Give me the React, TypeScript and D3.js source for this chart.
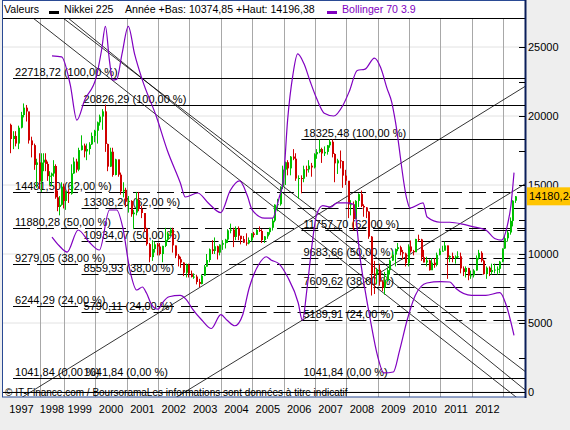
import React from 'react';
import * as d3 from 'd3';

// ---------- DATA ----------
const yearLabels = ['1997','1998','1999','2000','2001','2002','2003','2004','2005','2006','2007','2008','2009','2010','2011','2012'];
const yearStarts = [1998,1999,2000,2001,2002,2003,2004,2005,2006,2007,2008,2009,2010,2011,2012,2013];
const firstOpen = 19361;
// monthly closes Jan 1997 .. May 2013
const monthlyClose = [
  18330,18557,18003,19151,20069,20604,20331,18229,17888,16458,16636,15259,
  16628,16832,16527,15641,15671,15830,16379,14108,13406,13565,14883,13842,
  14499,14368,15837,16702,16112,17530,17862,17437,17605,17942,18558,18934,
  19540,19960,20337,17974,16332,17411,15727,16861,15747,14539,14649,13786,
  13843,12884,12999,13934,13262,12969,11861,10714,9775,10366,10697,10543,
  9997,10588,11025,11493,11764,10622,9877,9619,9383,8640,9216,8579,
  8340,8363,7973,7831,8425,9083,9563,10344,10219,10560,10101,10677,
  10784,11042,11715,11762,11236,11859,11326,11082,10824,10771,11013,11489,
  11388,11741,11668,11009,11277,11584,11900,12414,13574,13607,14872,16111,
  16650,16205,17060,16906,15467,15505,15457,16141,16128,16399,16274,17226,
  17383,17604,17288,17400,17876,18138,17249,16569,16786,16737,15681,15308,
  13592,13603,12526,13850,14339,13481,13377,13073,11260,8577,8512,8860,
  7994,7568,8110,8828,9523,9958,10357,10493,10133,10035,9346,10546,
  10198,10126,11090,11057,9769,9383,9537,8824,9369,9202,9937,10229,
  10238,10624,9755,9850,9694,9816,9833,8955,8700,8988,8435,8455,
  8803,9723,10084,9521,8543,9007,8695,8840,8870,8928,9446,10395,
  11139,11559,12398,13861,14180.24
];
const monthlyHigh = [
  19446,18900,18900,19300,20300,20910,20800,20300,18500,18000,16900,17300,
  17300,17300,17300,16700,16000,15900,16800,16500,14600,14200,15200,15100,
  14600,14700,16500,17000,16900,17700,18600,18000,18000,18100,18800,19000,
  19600,20100,20500,20833,18000,17700,17700,16900,16700,15900,15200,14800,
  14200,13900,13200,14500,14500,13500,12900,11900,10800,11000,10900,10800,
  10800,10600,11900,11600,11900,11900,10600,10000,9800,9400,9300,9300,
  8800,8600,8500,8200,8500,9200,10000,10400,11000,11200,10600,10700,
  11000,11100,11800,12200,11900,12000,12000,11300,11300,11500,11200,11500,
  11600,11800,12000,11800,11300,11600,11900,12600,13600,14000,14900,16400,
  16700,16800,17100,17600,17300,15700,15700,16400,16400,16800,16600,17300,
  17600,18300,17700,17800,17900,18300,18300,17300,16900,17500,16500,16100,
  15200,13900,13800,13900,14400,14600,13600,13400,13100,11300,9500,9000,
  9300,8100,8700,9000,9600,10200,10400,10800,10600,10300,10100,10700,
  10980,10300,11100,11400,11100,10300,9800,9600,9700,9700,10100,10400,
  10600,10900,10600,9900,10100,9900,10200,10100,9100,9100,9000,8800,
  8900,9900,10300,10200,9600,9100,9100,9300,9300,9100,9500,10400,
  11300,11700,12650,13900,14196.38
];
const monthlyLow = [
  17303,17600,17800,17600,19100,19900,19600,18000,17000,16100,14800,14700,
  14500,16000,16000,15300,15000,14900,15600,14000,13100,12800,13500,13300,
  13200,13700,14300,15800,15900,16000,17500,17000,16800,17200,17900,18100,
  18000,19300,19000,17400,16000,16300,15600,15700,15600,14300,14100,13400,
  13000,12700,11800,12800,13100,12600,11600,10600,9400,9500,10100,9900,
  9900,9400,10500,10900,11300,10100,9700,9100,9000,8400,8300,8300,
  8300,8200,7800,7600,7800,8400,9100,9400,10000,10000,9600,9900,
  10300,10400,10800,11500,10500,11000,11000,10700,10800,10600,10700,10900,
  11200,11400,11600,10800,10800,11100,11400,11700,12300,13100,13500,14700,
  15000,15700,15700,16800,15300,14000,14400,15200,15600,15900,15600,16200,
  16900,17300,16600,17100,17200,17700,17000,15200,15800,16200,14800,15000,
  12600,12800,11700,12600,13400,13400,12700,12600,11100,6990,7100,7800,
  7700,7300,7050,8000,8500,9500,9100,10200,9900,9600,9100,9100,
  10100,9900,10200,10900,9500,9400,9100,8800,8900,9000,9100,9900,
  10200,10300,8200,9400,9400,9300,9700,8600,8400,8300,8100,8200,
  8300,8800,9600,9400,8500,8200,8400,8500,8600,8500,8600,9400,
  10374.85,10900,11400,12000,13700
];
const lastValue = 14180.24;
const yearLow = 10374.85;
const yearHigh = 14196.38;

// Bollinger 70 3.9
const bbUpperT = [1998.5,1998.9,1999.2,1999.41,1999.66,2000.03,2000.2,2000.32,2000.45,2000.55,2000.68,2000.85,2001.05,2001.25,2001.5,2001.95,2002.29,2002.71,2002.87,2003.26,2003.6,2004.0,2004.3,2004.6,2004.85,2005.0,2005.4,2005.65,2005.85,2006.0,2006.13,2006.3,2006.45,2006.65,2006.85,2007.05,2007.3,2007.6,2007.9,2008.1,2008.35,2008.6,2008.9,2009.1,2009.3,2009.45,2009.56,2009.94,2010.03,2010.45,2010.58,2011.0,2011.3,2011.7,2012.0,2012.45,2012.75,2012.95,2013.15,2013.25,2013.35];
const bbUpperV = [24350,24280,22250,19700,21160,22830,24800,26500,24000,22600,22650,24500,26500,24500,22600,19930,17540,15150,14130,14420,13700,13000,14600,15300,14200,13200,12600,12600,14000,15500,19700,23000,24500,23800,22500,21300,20200,20000,20800,21800,23300,23400,24200,23500,22000,21000,19700,13900,13330,13700,12680,12300,12300,12170,12000,11740,11100,11000,12200,13500,15900];
const bbLowerT = [1998.5,1998.8,1999.1,1999.45,1999.8,2000.13,2000.45,2000.68,2000.87,2001.1,2001.32,2001.5,2001.63,2001.8,2002.0,2002.15,2002.35,2002.7,2002.9,2003.1,2003.4,2003.7,2004.0,2004.2,2004.45,2004.7,2004.9,2005.2,2005.45,2005.6,2005.85,2006.13,2006.47,2006.6,2006.75,2006.9,2007.05,2007.25,2007.5,2007.71,2008.0,2008.23,2008.45,2008.77,2009.0,2009.2,2009.5,2009.7,2009.94,2010.2,2010.57,2011.0,2011.3,2011.5,2012.0,2012.45,2012.9,2013.1,2013.35];
const bbLowerV = [11230,10600,10140,11740,10870,10290,13190,13190,11960,8840,7390,7610,7170,6300,6000,6500,6900,7000,6700,6000,5200,4600,5600,5200,4800,5600,7500,9200,9800,9570,9300,8330,6450,5200,7500,10500,12800,13500,13400,13700,13700,13600,9570,5200,2600,1380,1450,3000,5200,7000,7900,8000,7970,7500,7000,7000,7200,6300,4100];

// Fibonacci retracements (value, percent)
const fibA = [22718.72,14481.50,11880.28,9279.05,6244.29,1041.84];
const fibB = [20826.29,13308.20,10934.07,8559.93,5790.11,1041.84];
const fibC = [18325.48,11757.70,9683.66,7609.62,5189.91,1041.84];
const fibPct = [100,62,50,38,24,0];
const fibStart = [1997.13,1999.56,2006.57];

// trend lines: two anchor points [date, value]
const trendLines = [
  [[1997.774, 27100],[2005.0, 14640]],
  [[1998.96, 27100],[2004.97, 16670]],
  [[1999.13, 27100],[2004.97, 16300]],
  [[1998.42, 870],[2011.3, 18770]],
  [[2005.3, 3400],[2011.3, 11740]],
];

const rightTicks = [0,2500,5000,7500,10000,12500,15000,17500,20000,22500,25000];
const rightLabels = [0,5000,10000,15000,20000,25000];

// ---------- CHART ----------
const L = 3, R = 525, T = 18, B = 397;
const FONT = 'Liberation Sans, Arial, sans-serif';
const PURPLE = '#8000C0';
const fmt = (v: number) => v.toFixed(2).replace('.', ',');

export default function App() {
  const x = d3.scaleLinear().domain([1997, 1998, 1999, 2013.7]).range([9, 40, 64, R]);
  const y = d3.scaleLinear().domain([0, 25000]).range([392, 47]);

  const candles = monthlyClose.map((c, i) => {
    const t = 1997 + (i + 0.5) / 12;
    const o = i === 0 ? firstOpen : monthlyClose[i - 1];
    return { t, o, c, h: monthlyHigh[i], l: monthlyLow[i] };
  });

  const line = d3.line<[number, number]>().x(d => x(d[0])).y(d => y(d[1])).curve(d3.curveMonotoneX);
  const upper = bbUpperT.map((t, i) => [t, bbUpperV[i]] as [number, number]);
  const lower = bbLowerT.map((t, i) => [t, bbLowerV[i]] as [number, number]);

  const fibSets = [fibA, fibB, fibC];

  const trendPaths = trendLines.map(([p1, p2]) => {
    const x1 = x(p1[0]), y1 = y(p1[1]), x2 = x(p2[0]), y2 = y(p2[1]);
    const s = (y2 - y1) / (x2 - x1);
    return { xa: L, ya: y1 + s * (L - x1), xb: R, yb: y1 + s * (R - x1) };
  });

  const boundaries = [L, ...yearStarts.map(v => x(v))];

  return (
    <svg width={570} height={430} style={{ position: 'fixed', left: 0, top: 0 }} fontFamily={FONT}>
      <defs>
        <clipPath id="plot"><rect x={L} y={T} width={R - L} height={B - T} /></clipPath>
      </defs>
      <rect width={570} height={430} fill="#EEEEEE" />
      <rect x={L} y={0} width={R - L} height={B} fill="#FFFFFF" />
      {/* legend */}
      <g fontSize={10.6}>
        <text x={4} y={13}>Valeurs</text>
        <rect x={49} y={11} width={10} height={3} fill="#000" />
        <text x={64} y={13}>Nikkei 225</text>
        <text x={125} y={13}>{`Année +Bas: ${fmt(yearLow)} +Haut: ${fmt(yearHigh)}`}</text>
        <rect x={327} y={11} width={10} height={3} fill={PURPLE} />
        <text x={342} y={13} fill={PURPLE}>Bollinger 70 3.9</text>
      </g>
      <g clipPath="url(#plot)">
        {rightLabels.map(v => <line key={v} x1={L} x2={R} y1={y(v)} y2={y(v)} stroke="#E2E2E2" />)}
        {yearStarts.map(v => <line key={v} x1={Math.round(x(v)) + 0.5} x2={Math.round(x(v)) + 0.5} y1={T} y2={B} stroke="#A8A8A8" />)}
        {fibSets.map((set, si) => (
          <g key={si}>
            {set.map((v, k) => {
              const x0 = x(fibStart[si]);
              const yy = Math.round(y(v)) + 0.5;
              const solid = fibPct[k] === 100 || fibPct[k] === 0;
              return (
                <g key={k}>
                  <line x1={x0} x2={R} y1={yy} y2={yy} stroke="#000" strokeDasharray={solid ? undefined : '17,7'} />
                  <text x={x0 + 2} y={yy - 3} fontSize={11}>{`${fmt(v)} (${fmt(fibPct[k])} %)`}</text>
                </g>
              );
            })}
          </g>
        ))}
        {trendPaths.map((p, i) => <line key={i} x1={p.xa} y1={p.ya} x2={p.xb} y2={p.yb} stroke="#000" strokeWidth={0.8} />)}
        {candles.map((d, i) => {
          const up = d.c >= d.o;
          const col = up ? '#00C000' : '#D00000';
          const cx = Math.round(x(d.t));
          const top = y(Math.max(d.o, d.c)), bot = y(Math.min(d.o, d.c));
          return (
            <g key={i}>
              <line x1={cx + 0.5} x2={cx + 0.5} y1={y(d.h)} y2={y(d.l)} stroke={col} />
              <rect x={cx} y={top} width={2} height={Math.max(1, bot - top)} fill={col} />
            </g>
          );
        })}
        <path d={line(upper) || ''} fill="none" stroke={PURPLE} strokeWidth={1.2} />
        <path d={line(lower) || ''} fill="none" stroke={PURPLE} strokeWidth={1.2} />
        <line x1={L} x2={R} y1={y(0) + 0.5} y2={y(0) + 0.5} stroke="#000" />
      </g>
      <text x={5} y={396} fontSize={10}>© IT-Finance.com / BoursoramaLes informations sont données à titre indicatif</text>
      <line x1={L} x2={R} y1={T + 0.5} y2={T + 0.5} stroke="#000" />
      <rect x={2.5} y={0.5} width={R - 2} height={B - 0.5} fill="none" stroke="#2A4A94" />
      <line x1={R + 0.5} x2={R + 0.5} y1={0} y2={B + 1} stroke="#0A1E5A" strokeWidth={2} />
      {rightTicks.map(v => <line key={v} x1={R - 6} x2={R} y1={Math.round(y(v)) + 0.5} y2={Math.round(y(v)) + 0.5} stroke="#000" />)}
      {fibSets.flat().map((v, i) => <line key={'f' + i} x1={R - 4} x2={R} y1={Math.round(y(v)) + 0.5} y2={Math.round(y(v)) + 0.5} stroke="#000" />)}
      {rightLabels.map(v => <text key={v} x={528} y={y(v) + 4} fontSize={11}>{v}</text>)}
      <rect x={527} y={y(lastValue) - 9} width={43} height={18} fill="#FFC400" />
      <text x={529} y={y(lastValue) + 4} fontSize={11}>{fmt(lastValue)}</text>
      {yearLabels.map((lab, i) => (
        <text key={lab} x={(boundaries[i] + boundaries[i + 1]) / 2} y={413} fontSize={11} textAnchor="middle">{lab}</text>
      ))}
    </svg>
  );
}
